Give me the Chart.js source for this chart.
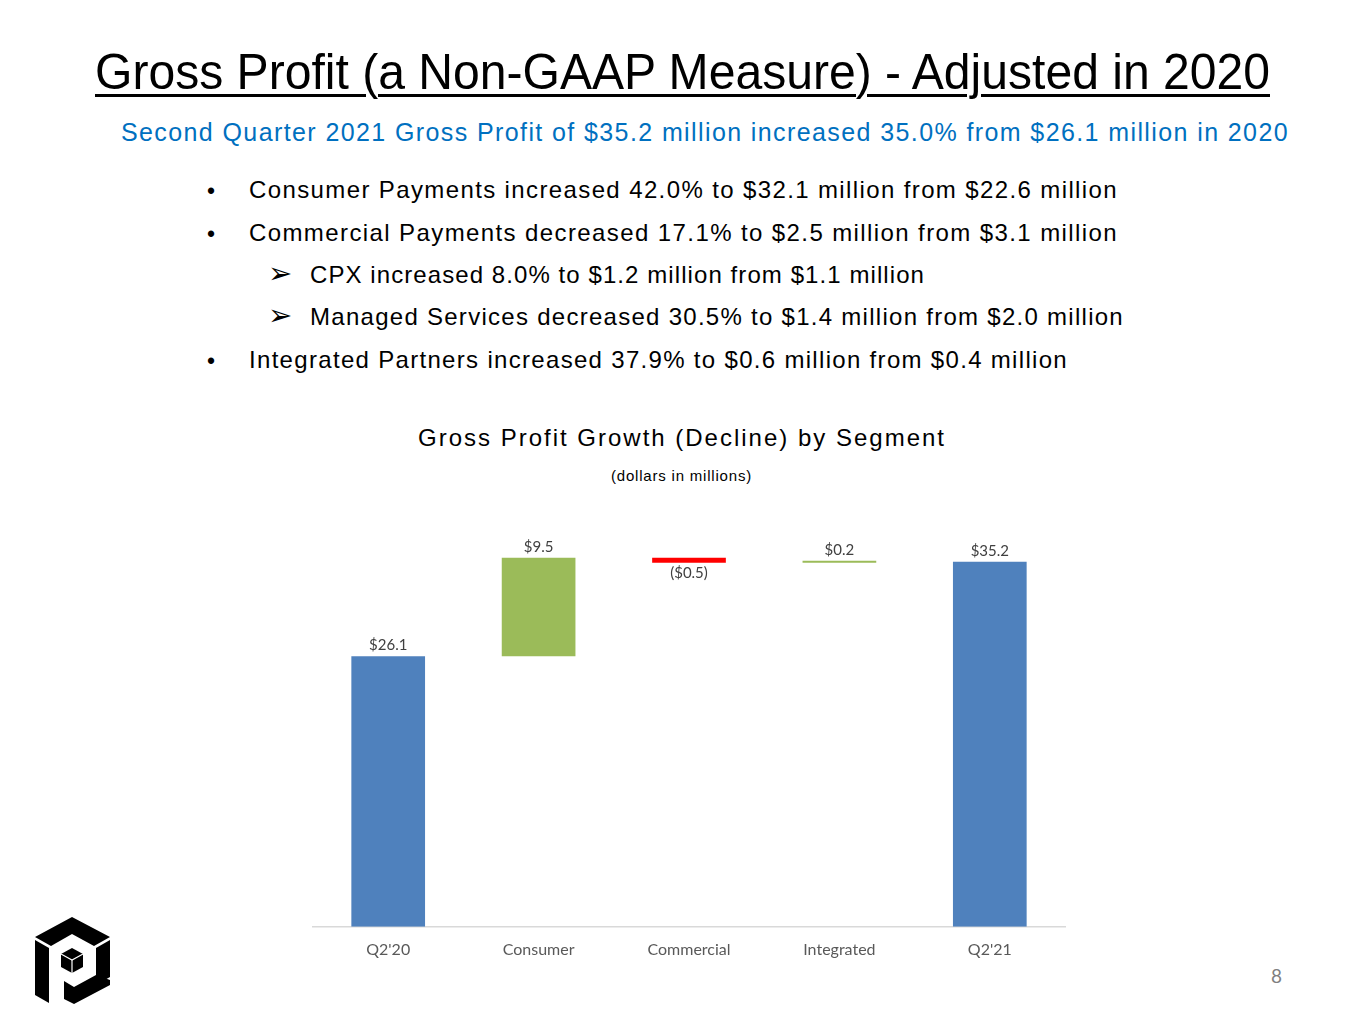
<!DOCTYPE html>
<html>
<head>
<meta charset="utf-8">
<script src="https://cdn.jsdelivr.net/npm/chart.js@4"></script>
<style>
  html, body { margin: 0; padding: 0; background: #fff; }
  body { width: 1365px; height: 1024px; position: relative; overflow: hidden; font-family: "Liberation Sans", Arial, sans-serif; }
  .t { position: absolute; white-space: nowrap; line-height: 1; }
  #title { font-size: 50px; color: #000; text-decoration: underline; text-decoration-thickness: 3px; text-underline-offset: 5px; transform-origin: 0 0; }
  #sub { font-size: 25px; color: #0070c0; }
  .b { font-size: 24px; color: #000; }
  .mk { font-size: 23px; color: #000; position: absolute; line-height: 1; }
  .ar { font-family: "DejaVu Sans", sans-serif; font-size: 29px; }
  #ctitle { font-size: 24px; color: #000; }
  #cunit { font-size: 15px; color: #000; }
  #page { font-family: Lato, sans-serif; font-size: 19px; color: #7f7f7f; }
  #wrap { position: absolute; left: 303px; top: 500px; width: 772px; height: 464px; }
</style>
</head>
<body>
<div class="t" id="title" data-x="95" data-base="89" data-w="1175" data-scale="1">Gross Profit (a Non-GAAP Measure) - Adjusted in 2020</div>
<div class="t" id="sub" data-x="121" data-base="141" data-w="1168">Second Quarter 2021 Gross Profit of $35.2 million increased 35.0% from $26.1 million in 2020</div>

<div class="mk" style="left:207px;top:180px;">•</div>
<div class="t b" data-x="249" data-base="198" data-w="869">Consumer Payments increased 42.0% to $32.1 million from $22.6 million</div>
<div class="mk" style="left:207px;top:223px;">•</div>
<div class="t b" data-x="249" data-base="241" data-w="869">Commercial Payments decreased 17.1% to $2.5 million from $3.1 million</div>
<div class="mk ar" style="left:268px;top:259px;">➢</div>
<div class="t b" data-x="310" data-base="283" data-w="615">CPX increased 8.0% to $1.2 million from $1.1 million</div>
<div class="mk ar" style="left:268px;top:301px;">➢</div>
<div class="t b" data-x="310" data-base="325" data-w="814">Managed Services decreased 30.5% to $1.4 million from $2.0 million</div>
<div class="mk" style="left:207px;top:350px;">•</div>
<div class="t b" data-x="249" data-base="368" data-w="819">Integrated Partners increased 37.9% to $0.6 million from $0.4 million</div>

<div class="t" id="ctitle" data-x="418" data-base="446" data-w="528">Gross Profit Growth (Decline) by Segment</div>
<div class="t" id="cunit" data-x="611" data-base="481" data-w="141">(dollars in millions)</div>

<div id="wrap"><canvas id="chart"></canvas></div>

<svg style="position:absolute;left:30px;top:915px;" width="85" height="92" viewBox="0 0 85 92">
  <polygon points="5,22 42,2 80,22 64,31 42,19 21,31" fill="#000"/>
  <polygon points="5,25 19,33 19,88 5,80" fill="#000"/>
  <polygon points="66,33 80,25 80,62 66,70" fill="#000"/>
  <polygon points="80,65 80,70 44,89 34,84 34,66 44,72 66,60" fill="#000"/>
  <polygon points="42,33 53,39 53,52 42,58 31,52 31,39" fill="#000"/>
  <polyline points="31,39 42,45 53,39" fill="none" stroke="#fff" stroke-width="1.2"/>
  <line x1="42" y1="45" x2="42" y2="58" stroke="#fff" stroke-width="1.2"/>
</svg>

<div class="t" id="page" style="left:1271px;top:966px;">8</div>

<script>
// chart data
const categories = ["Q2'20", "Consumer", "Commercial", "Integrated", "Q2'21"];
const changes = [26.1, 9.5, -0.5, 0.2, 35.2];
const isTotal = [true, false, false, false, true];
const yMin = 0;
const yMax = 40;

// fit slide texts to their measured widths
document.querySelectorAll('.t[data-w]').forEach(el => {
  const fs = parseFloat(getComputedStyle(el).fontSize);
  const natural = el.getBoundingClientRect().width;
  const target = parseFloat(el.dataset.w);
  if (el.dataset.scale) {
    el.style.transform = 'scaleX(' + (target / natural) + ')';
  } else {
    el.style.letterSpacing = ((target - natural) / el.textContent.length) + 'px';
  }
  el.style.left = el.dataset.x + 'px';
  el.style.top = (parseFloat(el.dataset.base) - fs * 0.8465) + 'px';
});

// build floating bars from running total
let running = 0;
const ranges = [];
const colors = [];
changes.forEach((v, i) => {
  if (isTotal[i]) {
    ranges.push([0, v]);
    running = v;
    colors.push('#4f81bd');
  } else {
    ranges.push([running, running + v]);
    running += v;
    colors.push(v < 0 ? '#ff0000' : '#9bbb59');
  }
});

const fmt = v => v < 0 ? '($' + Math.abs(v).toFixed(1) + ')' : '$' + v.toFixed(1);

const valueLabels = {
  id: 'valueLabels',
  afterDatasetsDraw(chart) {
    const ctx = chart.ctx;
    const meta = chart.getDatasetMeta(0);
    ctx.save();
    ctx.font = '15px Lato, sans-serif';
    ctx.fillStyle = '#404040';
    ctx.textAlign = 'center';
    meta.data.forEach((bar, i) => {
      const top = Math.min(bar.y, bar.base);
      const bottom = Math.max(bar.y, bar.base);
      if (changes[i] < 0) {
        ctx.textBaseline = 'top';
        ctx.fillText(fmt(changes[i]), bar.x, bottom + 3);
      } else {
        ctx.textBaseline = 'bottom';
        ctx.fillText(fmt(changes[i]), bar.x, top - 3);
      }
    });
    ctx.restore();
  }
};

new Chart(document.getElementById('chart').getContext('2d'), {
  type: 'bar',
  data: {
    labels: categories,
    datasets: [{
      data: ranges,
      backgroundColor: colors,
      borderWidth: 0,
      barPercentage: 0.49,
      categoryPercentage: 1
    }]
  },
  options: {
    responsive: true,
    maintainAspectRatio: false,
    animation: false,
    layout: { padding: { left: 10, right: 10, top: 12, bottom: 0 } },
    plugins: { legend: { display: false }, tooltip: { enabled: false } },
    scales: {
      x: {
        grid: { display: false },
        border: { color: '#d9d9d9', width: 1.5 },
        ticks: { color: '#595959', font: { family: 'Lato', size: 16 }, padding: 5 }
      },
      y: { display: false, min: yMin, max: yMax }
    }
  },
  plugins: [valueLabels]
});
</script>
</body>
</html>
